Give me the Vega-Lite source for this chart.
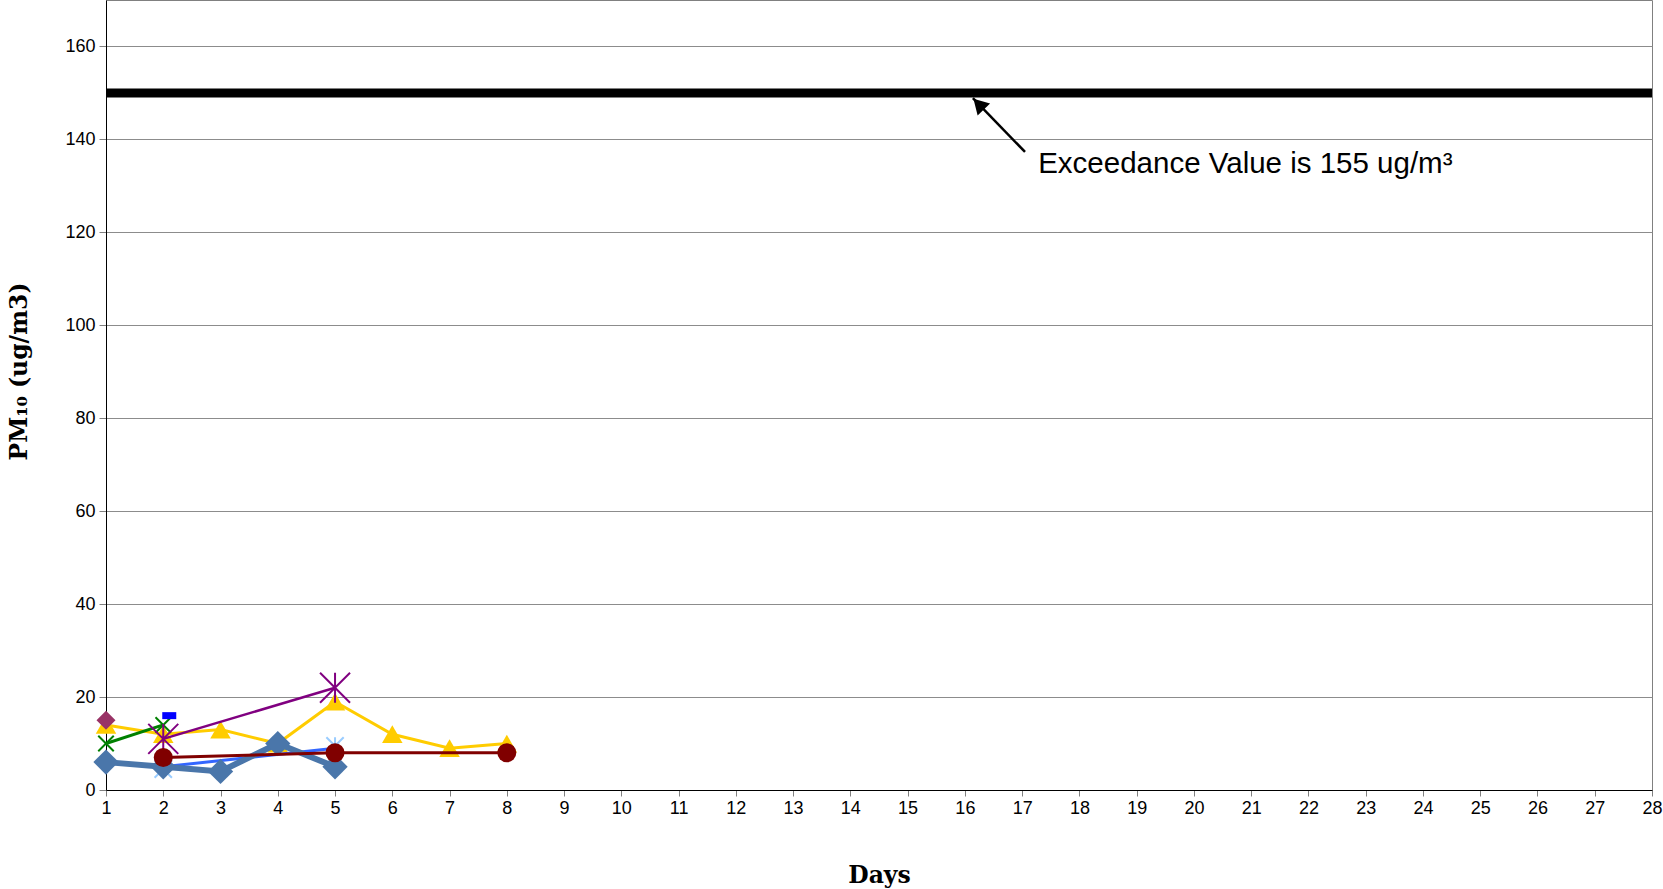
{
  "$schema": "https://vega.github.io/schema/vega-lite/v6.json",
  "width": 1546,
  "height": 790,
  "autosize": {"type": "none"},
  "padding": {"left": 106, "top": 0, "right": 11, "bottom": 99},
  "background": "white",
  "config": {
    "view": {"stroke": "#808080", "strokeWidth": 1},
    "axis": {"labelFont": "Liberation Sans", "labelFontSize": 18, "labelColor": "#000000", "titleFont": "DejaVu Serif", "titleFontWeight": "bold", "titleFontSize": 23.5, "titleColor": "#000000"}
  },
  "datasets": {
    "series": [
      {"series": "Yellow", "day": 1, "value": 14},
      {"series": "Yellow", "day": 2, "value": 12},
      {"series": "Yellow", "day": 3, "value": 13},
      {"series": "Yellow", "day": 4, "value": 10},
      {"series": "Yellow", "day": 5, "value": 19},
      {"series": "Yellow", "day": 6, "value": 12},
      {"series": "Yellow", "day": 7, "value": 9},
      {"series": "Yellow", "day": 8, "value": 10},
      {"series": "BlueLine", "day": 2, "value": 5},
      {"series": "BlueLine", "day": 5, "value": 9},
      {"series": "LightBlue", "day": 2, "value": 4.5},
      {"series": "LightBlue", "day": 5, "value": 9.5},
      {"series": "Steel", "day": 1, "value": 6},
      {"series": "Steel", "day": 2, "value": 5},
      {"series": "Steel", "day": 3, "value": 4},
      {"series": "Steel", "day": 4, "value": 10},
      {"series": "Steel", "day": 5, "value": 5},
      {"series": "Green", "day": 1, "value": 10},
      {"series": "Green", "day": 2, "value": 14},
      {"series": "Purple", "day": 2, "value": 11},
      {"series": "Purple", "day": 5, "value": 22},
      {"series": "DarkRed", "day": 2, "value": 7},
      {"series": "DarkRed", "day": 5, "value": 8},
      {"series": "DarkRed", "day": 8, "value": 8},
      {"series": "Plum", "day": 1, "value": 15},
      {"series": "BlueRect", "day": 2, "value": 16}
    ],
    "threshold": [{"x": 1, "x2": 28, "y": 150}],
    "arrow": [{"x": 17.05, "y": 137.3, "x2": 16.14, "y2": 148.9}],
    "arrowhead": [{"x": 16.24, "y": 147.6}],
    "note": [{"x": 17.28, "y": 132.8, "label": "Exceedance Value is 155 ug/m³"}]
  },
  "layer": [
    {
      "data": {"name": "threshold"},
      "mark": {"type": "rule", "color": "#000000", "strokeWidth": 9},
      "encoding": {
        "x": {"field": "x", "type": "quantitative", "scale": {"domain": [1, 28], "nice": false, "zero": false},
          "axis": {"title": "Days", "format": "d", "values": [1,2,3,4,5,6,7,8,9,10,11,12,13,14,15,16,17,18,19,20,21,22,23,24,25,26,27,28], "grid": false, "domainColor": "#000000", "tickColor": "#808080", "tickSize": 6, "labelPadding": 3, "titlePadding": 46, "labelFlush": false}},
        "x2": {"field": "x2"},
        "y": {"field": "y", "type": "quantitative", "scale": {"domain": [0, 170], "nice": false},
          "axis": {"title": "PM₁₀ (ug/m3)", "values": [0,20,40,60,80,100,120,140,160], "grid": true, "gridColor": "#8c8c8c", "domainColor": "#000000", "tickColor": "#808080", "tickSize": 7, "labelPadding": 4, "titleX": -87, "titleY": 371, "titleBaseline": "middle", "titleAlign": "center", "titleAngle": -90}}
      }
    },
    {
      "data": {"name": "arrow"},
      "mark": {"type": "rule", "color": "#000000", "strokeWidth": 2.5},
      "encoding": {
        "x": {"field": "x", "type": "quantitative"},
        "y": {"field": "y", "type": "quantitative"},
        "x2": {"field": "x2"},
        "y2": {"field": "y2"}
      }
    },
    {
      "data": {"name": "arrowhead"},
      "mark": {"type": "point", "shape": "triangle-up", "filled": true, "color": "#000000", "size": 300, "angle": 316, "opacity": 1},
      "encoding": {
        "x": {"field": "x", "type": "quantitative"},
        "y": {"field": "y", "type": "quantitative"}
      }
    },
    {
      "data": {"name": "note"},
      "mark": {"type": "text", "font": "Liberation Sans", "fontSize": 29.5, "align": "left", "baseline": "alphabetic", "color": "#000000"},
      "encoding": {
        "x": {"field": "x", "type": "quantitative"},
        "y": {"field": "y", "type": "quantitative"},
        "text": {"field": "label"}
      }
    },
    {
      "data": {"name": "series"},
      "transform": [{"filter": "datum.series === 'Yellow'"}],
      "layer": [
        {"mark": {"type": "line", "color": "#FFCC00", "strokeWidth": 3}},
        {"mark": {"type": "point", "shape": "triangle-up", "filled": true, "color": "#FFCC00", "size": 420, "opacity": 1}}
      ],
      "encoding": {"x": {"field": "day", "type": "quantitative"}, "y": {"field": "value", "type": "quantitative"}}
    },
    {
      "data": {"name": "series"},
      "transform": [{"filter": "datum.series === 'LightBlue'"}],
      "mark": {"type": "point", "shape": "M-1,-1L1,1M-1,1L1,-1M0,-1L0,1", "filled": false, "color": "#99CCFF", "strokeWidth": 2, "size": 300, "opacity": 1},
      "encoding": {"x": {"field": "day", "type": "quantitative"}, "y": {"field": "value", "type": "quantitative"}}
    },
    {
      "data": {"name": "series"},
      "transform": [{"filter": "datum.series === 'BlueLine'"}],
      "mark": {"type": "line", "color": "#3366FF", "strokeWidth": 3},
      "encoding": {"x": {"field": "day", "type": "quantitative"}, "y": {"field": "value", "type": "quantitative"}}
    },
    {
      "data": {"name": "series"},
      "transform": [{"filter": "datum.series === 'Steel'"}],
      "layer": [
        {"mark": {"type": "line", "color": "#4A76AA", "strokeWidth": 6}},
        {"mark": {"type": "point", "shape": "diamond", "filled": true, "color": "#4A76AA", "size": 640, "opacity": 1}}
      ],
      "encoding": {"x": {"field": "day", "type": "quantitative"}, "y": {"field": "value", "type": "quantitative"}}
    },
    {
      "data": {"name": "series"},
      "transform": [{"filter": "datum.series === 'Green'"}],
      "layer": [
        {"mark": {"type": "line", "color": "#008000", "strokeWidth": 3}},
        {"mark": {"type": "point", "shape": "M-1,-1L1,1M-1,1L1,-1", "filled": false, "color": "#008000", "strokeWidth": 2, "size": 240, "opacity": 1}}
      ],
      "encoding": {"x": {"field": "day", "type": "quantitative"}, "y": {"field": "value", "type": "quantitative"}}
    },
    {
      "data": {"name": "series"},
      "transform": [{"filter": "datum.series === 'Purple'"}],
      "layer": [
        {"mark": {"type": "line", "color": "#800080", "strokeWidth": 2.5}},
        {"mark": {"type": "point", "shape": "M-1,-1L1,1M-1,1L1,-1M0,-1L0,1", "filled": false, "color": "#800080", "strokeWidth": 2, "size": 900, "opacity": 1}}
      ],
      "encoding": {"x": {"field": "day", "type": "quantitative"}, "y": {"field": "value", "type": "quantitative"}}
    },
    {
      "data": {"name": "series"},
      "transform": [{"filter": "datum.series === 'DarkRed'"}],
      "layer": [
        {"mark": {"type": "line", "color": "#800000", "strokeWidth": 3}},
        {"mark": {"type": "point", "shape": "circle", "filled": true, "color": "#800000", "size": 361, "opacity": 1}}
      ],
      "encoding": {"x": {"field": "day", "type": "quantitative"}, "y": {"field": "value", "type": "quantitative"}}
    },
    {
      "data": {"name": "series"},
      "transform": [{"filter": "datum.series === 'Plum'"}],
      "mark": {"type": "point", "shape": "diamond", "filled": true, "color": "#993366", "size": 361, "opacity": 1},
      "encoding": {"x": {"field": "day", "type": "quantitative"}, "y": {"field": "value", "type": "quantitative"}}
    },
    {
      "data": {"name": "series"},
      "transform": [{"filter": "datum.series === 'BlueRect'"}],
      "mark": {"type": "point", "shape": "M-1,-0.5L1,-0.5L1,0.5L-1,0.5Z", "filled": true, "color": "#0000FF", "size": 196, "opacity": 1, "xOffset": 6},
      "encoding": {"x": {"field": "day", "type": "quantitative"}, "y": {"field": "value", "type": "quantitative"}}
    }
  ]
}
